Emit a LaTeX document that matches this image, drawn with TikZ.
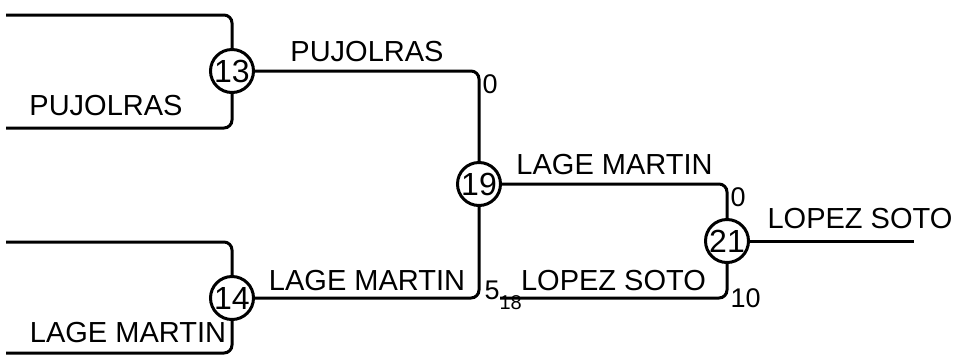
\documentclass[tikz,border=0pt]{standalone}
\usepackage{fontspec}
\setmainfont{Liberation Sans}
\usetikzlibrary{positioning}
\tikzset{
  match/.style={draw,circle,inner sep=-2pt,minimum size=21.5pt,font=\fontsize{16}{18}\selectfont},
  player/.style={inner sep=1pt,font=\fontsize{14.5}{17}\selectfont},
  score/.style={inner sep=1pt,font=\fontsize{13.5}{16}\selectfont}
}
\begin{document}
\begin{tikzpicture}[x=0.5pt,y=-0.5pt,line width=1.5pt,rounded corners=4pt]
\useasboundingbox (0,0) rectangle (953,355);
\node[match] (m13) at (232,71) {13};
\node[match] (m14) at (232,298) {14};
\node[match] (m19) at (479,184) {19};
\node[match] (m21) at (727,241) {21};
\coordinate (t13) at (6,15);
\coordinate (b13) at (6,128);
\coordinate (t14) at (6,242);
\coordinate (b14) at (6,353);
\coordinate (e18) at (500,298);
\coordinate (win) at (914,241);
% first round
\draw (t13) -| (m13);
\draw (b13) -| (m13);
\draw (t14) -| (m14);
\draw (b14) -| (m14);
\node[player,anchor=south] (p13) at (106,119) {PUJOLRAS};
\node[player,anchor=south] (p14) at (128,346) {LAGE MARTIN};
% semi final
\draw (m13) -| node[player,pos=0.25,anchor=south,yshift=3pt] (n13) {PUJOLRAS} node[score,pos=0.5,anchor=north west] (s13) {0} (m19);
\draw (m19) |- node[player,pos=0.75,anchor=south,yshift=2pt] (n14) {LAGE MARTIN} (m14);
\node[score,anchor=west] (s14) at (481,295) {5\raisebox{-0.7ex}{\fontsize{10}{11}\selectfont 18}};
% final
\draw (m19) -| node[player,pos=0.25,anchor=south,yshift=3pt] (n19) {LAGE MARTIN} node[score,pos=0.5,anchor=north west] (s19) {0} (m21);
\draw (m21) |- node[player,pos=0.75,anchor=south,yshift=2pt] (n18) {LOPEZ SOTO} node[score,pos=0.5,anchor=west] (s18) {10} (e18);
\draw (m21) -- (win);
\node[player,anchor=south] (n21) at (860,232) {LOPEZ SOTO};
\end{tikzpicture}
\end{document}
